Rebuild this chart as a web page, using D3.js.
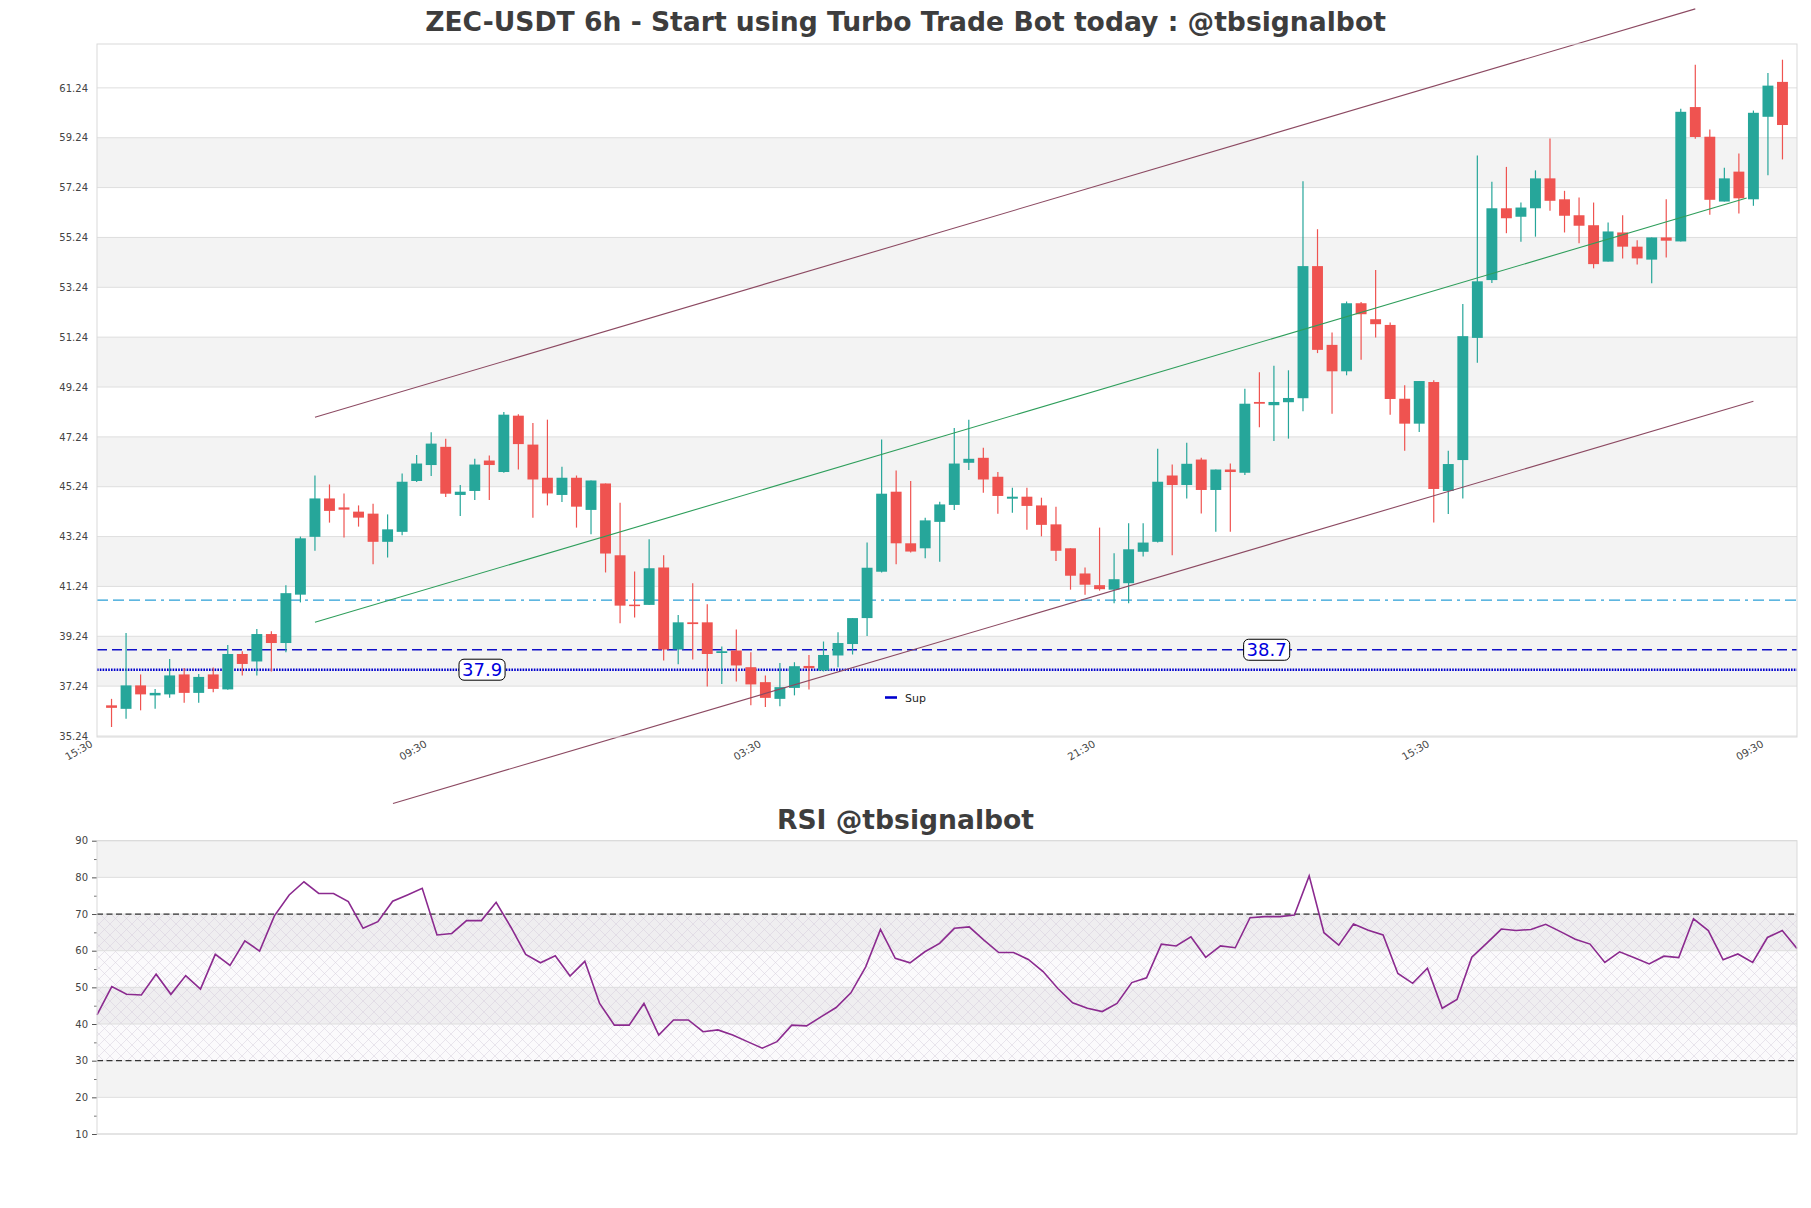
<!DOCTYPE html>
<html><head><meta charset="utf-8">
<script src="https://cdn.jsdelivr.net/npm/d3@7"></script>
<style>
body{margin:0;background:#fff;}
svg{display:block;}
text{font-family:"DejaVu Sans",sans-serif;}
</style>
</head><body>
<svg id="chart" width="1811" height="1208"></svg>
<script>
// ---------------- DATA ----------------
const opens  = [36.47,36.33,37.27,36.87,36.91,37.71,36.97,37.71,37.11,38.53,38.23,39.33,38.97,40.91,43.23,44.77,44.41,44.24,44.16,43.03,43.43,45.47,46.11,46.84,44.91,45.07,46.29,45.83,48.09,46.93,45.60,44.91,45.60,44.31,45.37,42.49,40.51,40.50,42.00,38.71,39.80,39.80,38.57,38.67,38.00,37.40,36.73,37.17,38.05,37.87,38.47,38.93,39.97,41.83,45.04,42.97,42.77,43.83,44.51,46.20,46.40,45.64,44.76,44.84,44.49,43.73,42.77,41.76,41.29,41.11,41.37,42.63,43.03,45.69,45.31,46.33,45.11,45.93,45.80,48.64,48.51,48.63,48.79,54.09,50.93,49.87,52.60,51.96,51.73,48.77,47.77,49.44,45.07,46.31,51.21,53.53,56.41,56.07,56.41,57.61,56.77,56.13,55.73,54.27,55.44,54.87,54.35,55.24,55.08,60.47,59.28,56.68,57.88,56.77,60.08,61.48];
const highs  = [36.73,39.37,37.71,37.13,38.33,37.97,37.73,37.99,38.89,38.64,39.53,39.44,41.29,43.24,45.69,45.33,44.97,44.49,44.56,44.13,45.77,46.51,47.43,47.16,45.31,46.36,46.49,48.24,48.15,47.80,47.93,46.04,45.69,45.49,45.37,44.60,41.84,43.13,42.49,40.09,41.37,40.53,38.83,39.51,38.60,37.67,38.17,38.20,38.49,39.03,39.40,39.97,43.00,47.13,45.89,45.47,44.00,44.64,47.60,47.93,46.80,45.83,45.20,45.20,44.80,44.44,42.77,42.00,43.60,42.57,43.77,43.77,46.76,46.13,47.00,46.40,45.93,46.17,49.17,49.83,50.09,49.91,57.49,55.57,51.43,52.67,52.65,53.93,51.83,49.31,49.48,49.51,46.68,52.57,58.53,57.47,58.07,56.64,57.93,59.21,57.11,56.84,56.64,55.84,56.13,55.13,55.24,56.77,60.40,62.17,59.57,58.04,58.61,60.33,61.84,62.37];
const lows   = [35.60,35.93,36.27,36.33,36.77,36.57,36.57,37.00,37.10,37.67,37.67,37.83,38.60,40.60,42.67,43.80,43.20,43.64,42.13,42.40,43.29,45.43,45.67,44.83,44.07,44.71,44.71,45.80,45.93,44.00,44.49,44.63,43.60,43.33,41.80,39.76,39.99,40.50,38.27,38.12,38.31,37.23,37.33,37.43,36.47,36.40,36.43,36.87,37.11,37.83,38.00,38.51,39.25,41.80,42.13,42.60,42.37,42.23,44.31,45.91,45.00,44.16,44.20,43.51,43.25,42.26,41.11,40.91,41.07,40.57,40.57,42.44,43.00,42.49,44.77,44.17,43.43,43.43,45.71,47.63,47.07,47.17,48.27,50.60,48.17,49.71,50.33,51.23,48.13,46.68,47.44,43.80,44.15,44.77,50.21,53.41,55.41,55.07,55.27,56.31,55.44,55.01,54.00,54.27,54.40,54.15,53.40,54.44,55.08,59.20,56.15,56.68,56.20,56.51,57.73,58.37];
const closes = [36.37,37.27,36.91,36.97,37.67,36.97,37.61,37.13,38.53,38.13,39.33,38.97,40.97,43.17,44.77,44.27,44.32,44.00,43.03,43.53,45.44,46.17,46.97,44.96,45.04,46.13,46.11,48.13,46.95,45.53,44.97,45.60,44.44,45.49,42.56,40.47,40.49,41.97,38.71,39.80,39.73,38.53,38.64,38.07,37.31,36.77,37.20,38.04,37.96,38.49,38.97,39.97,41.99,44.96,42.97,42.64,43.89,44.53,46.17,46.36,45.53,44.87,44.84,44.47,43.71,42.67,41.67,41.31,41.13,41.53,42.73,43.00,45.44,45.31,46.16,45.11,45.93,45.83,48.57,48.57,48.64,48.80,54.09,50.73,49.87,52.60,52.16,51.76,48.76,47.77,49.48,45.15,46.15,51.28,53.48,56.41,56.01,56.44,57.61,56.71,56.11,55.71,54.17,55.48,54.87,54.40,55.24,55.11,60.28,59.27,56.75,57.61,56.81,60.24,61.33,59.75];

const rsiValues = [42.5,50.2,48.1,47.9,53.6,48.1,53.2,49.5,59.0,56.0,62.7,59.9,69.5,75.2,78.8,75.6,75.6,73.4,66.1,67.9,73.5,75.2,77.0,64.3,64.7,68.2,68.2,73.2,66.4,59.0,56.7,58.6,53.1,57.1,45.6,39.7,39.7,45.6,37.0,41.1,41.1,37.9,38.4,37.0,35.2,33.4,35.2,39.7,39.5,42.0,44.5,48.5,55.6,65.8,57.9,56.7,59.7,62.0,66.1,66.5,62.9,59.5,59.5,57.6,54.3,49.7,45.8,44.3,43.4,45.6,51.3,52.6,61.8,61.3,63.8,58.2,61.3,60.8,69.0,69.3,69.3,69.7,80.4,64.9,61.5,67.3,65.6,64.3,53.8,51.1,55.2,44.3,46.7,58.2,62.0,65.9,65.5,65.8,67.2,65.2,63.1,61.8,56.8,59.7,58.1,56.4,58.5,58.1,68.7,65.5,57.5,59.1,56.8,63.6,65.5,60.6];

const timeTickIndex  = [-1, 22, 45, 68, 91, 114];
const timeTickLabels = ["15:30","09:30","03:30","21:30","15:30","09:30"];
const priceTicks = [35.24,37.24,39.24,41.24,43.24,45.24,47.24,49.24,51.24,53.24,55.24,57.24,59.24,61.24];
const rsiTicks = [10,20,30,40,50,60,70,80,90];
const rsiMinorTicks = [15,25,35,45,55,65,75,85];
const rsiLevels = [70, 30];

const supportLevel = 37.9;      // dotted, legend "Sup"
const resistLevel  = 38.7;      // dashed
const cyanLevel    = 40.69;     // dash-dot
const levelLabels = ["37.9","38.7"];
const legendLabels = ["Sup"];

// channel lines: [index, price]
const channelUpper  = [[14, 48.03],[109, 64.41]];
const channelMiddle = [[14, 39.80],[112.54, 56.82]];
const channelLower  = [[19.37, 32.53],[113.0, 48.67]];

const titleMain = "ZEC-USDT 6h - Start using Turbo Trade Bot today : @tbsignalbot";
const titleRsi = "RSI @tbsignalbot";

// ---------------- DRAW ----------------
const svg = d3.select("#chart");
const L = 97, R = 1797, T = 44, B = 737;
const rT = 840.7, rB = 1134;
const N = closes.length;

const x = d3.scaleLinear().domain([-1, N]).range([L, R]);
const y = d3.scaleLinear().domain([35.2, 63.0]).range([B, T]);
const xr = d3.scaleLinear().domain([0, N-1]).range([L, R]);
const yr = d3.scaleLinear().domain([10, 90]).range([rB, rT]);

const defs = svg.append("defs");
defs.append("clipPath").attr("id","clipMain").append("rect")
  .attr("x",L).attr("y",T).attr("width",R-L).attr("height",B-T);
const pat = defs.append("pattern").attr("id","hatch").attr("patternUnits","userSpaceOnUse")
  .attr("width",11).attr("height",11);
pat.append("path").attr("d","M0,0L11,11M11,0L0,11M-1,10L1,12M10,-1L12,1M-1,1L1,-1M10,12L12,10")
  .attr("stroke","#d3cada").attr("stroke-width",0.55).attr("fill","none");

// titles
svg.append("text").attr("x",905.5).attr("y",31).attr("text-anchor","middle")
  .attr("font-size",26.6).attr("font-weight","bold").attr("fill","#3d3d3d").text(titleMain);
svg.append("text").attr("x",905.5).attr("y",829).attr("text-anchor","middle")
  .attr("font-size",26.6).attr("font-weight","bold").attr("fill","#3d3d3d").text(titleRsi);

// ---- main panel ----
const main = svg.append("g");
for (let j = 0; j < priceTicks.length-1; j++) {
  if (j % 2 === 1) {
    main.append("rect").attr("x",L).attr("width",R-L)
      .attr("y",y(priceTicks[j+1])).attr("height",y(priceTicks[j])-y(priceTicks[j+1]))
      .attr("fill","#f3f3f3");
  }
}
main.selectAll(".pg").data(priceTicks).enter().append("line")
  .attr("x1",L).attr("x2",R).attr("y1",d=>y(d)).attr("y2",d=>y(d))
  .attr("stroke","#dedede").attr("stroke-width",1);

const yAxis = d3.axisLeft(y).tickValues(priceTicks).tickFormat(d3.format(".2f")).tickSize(0).tickPadding(9);
const ya = main.append("g").attr("transform",`translate(${L},0)`).call(yAxis);
ya.select(".domain").remove();
ya.selectAll("text").attr("font-size",10).attr("fill","#444").attr("font-family","DejaVu Sans");

// x tick labels
const xAxis = d3.axisBottom(x).tickValues(timeTickIndex).tickFormat((d,i)=>timeTickLabels[i]).tickSize(0);
const xa = main.append("g").attr("transform",`translate(0,${B})`).call(xAxis);
xa.select(".domain").remove();
xa.selectAll("text").attr("font-size",10.3).attr("fill","#444").attr("font-family","DejaVu Sans")
  .attr("text-anchor","end").attr("y",0).attr("dy","0")
  .attr("transform","translate(-4,9) rotate(-30)");

// levels
const lv = main.append("g").attr("clip-path","url(#clipMain)");
lv.append("line").attr("x1",L).attr("x2",R).attr("y1",y(cyanLevel)).attr("y2",y(cyanLevel))
  .attr("stroke","#2a9fd6").attr("stroke-width",1.3).attr("stroke-dasharray","11,5,11,5,11,5,11,5,3,5");
lv.append("line").attr("x1",L).attr("x2",R).attr("y1",y(resistLevel)).attr("y2",y(resistLevel))
  .attr("stroke","#1010c8").attr("stroke-width",1.3).attr("stroke-dasharray","10,5");
lv.append("line").attr("x1",L).attr("x2",R).attr("y1",y(supportLevel)).attr("y2",y(supportLevel))
  .attr("stroke","#0000cd").attr("stroke-width",2.6).attr("stroke-dasharray","1.6,1.2");

// candles
const bw = (x(1)-x(0))*0.75;
const cg = main.append("g").attr("clip-path","url(#clipMain)");
const idx = d3.range(N);
const col = i => closes[i] >= opens[i] ? "#26a69a" : "#ef5350";
cg.selectAll(".wick").data(idx).enter().append("line")
  .attr("x1",i=>x(i)).attr("x2",i=>x(i)).attr("y1",i=>y(highs[i])).attr("y2",i=>y(lows[i]))
  .attr("stroke",col).attr("stroke-width",1.2);
cg.selectAll(".body").data(idx).enter().append("rect")
  .attr("x",i=>x(i)-bw/2).attr("width",bw)
  .attr("y",i=>y(Math.max(opens[i],closes[i])))
  .attr("height",i=>Math.max(1.5, Math.abs(y(opens[i])-y(closes[i]))))
  .attr("fill",col);

// channel lines (not clipped)
const ln = d3.line().x(d=>x(d[0])).y(d=>y(d[1]));
main.append("path").attr("d",ln(channelUpper)).attr("stroke","#8c4a62").attr("stroke-width",1.1).attr("fill","none");
main.append("path").attr("d",ln(channelLower)).attr("stroke","#8c4a62").attr("stroke-width",1.1).attr("fill","none");
main.append("path").attr("d",ln(channelMiddle)).attr("stroke","#2e9e5b").attr("stroke-width",1.1).attr("fill","none");

// level labels
function boxLabel(xc, yc, txt){
  const g = main.append("g");
  const t = g.append("text").attr("x",xc).attr("y",yc).attr("text-anchor","middle")
    .attr("dominant-baseline","central").attr("font-size",18).attr("fill","#0000dd").text(txt);
  const bb = t.node().getBBox();
  g.insert("rect","text").attr("x",bb.x-3).attr("y",yc-10.5).attr("width",bb.width+6).attr("height",21)
    .attr("rx",5).attr("fill","#fff").attr("stroke","#000").attr("stroke-width",1);
}
boxLabel(x(25.5), y(supportLevel), levelLabels[0]);
boxLabel(x(79.5), y(resistLevel), levelLabels[1]);

// legend
const lg = main.append("g");
lg.append("rect").attr("x",880).attr("y",687).attr("width",57).attr("height",21).attr("fill","#fff").attr("opacity",0.85);
lg.append("line").attr("x1",885).attr("x2",897).attr("y1",697.5).attr("y2",697.5).attr("stroke","#0000cd").attr("stroke-width",2.6);
lg.append("text").attr("x",905).attr("y",701.5).attr("font-size",11).attr("fill","#222").text(legendLabels[0]);

// frame
main.append("rect").attr("x",L).attr("y",T).attr("width",R-L).attr("height",B-T)
  .attr("fill","none").attr("stroke","#d9d9d9").attr("stroke-width",1);

// ---- RSI panel ----
const rp = svg.append("g");
for (let j = 0; j < rsiTicks.length-1; j++) {
  if (j % 2 === 1) {
    rp.append("rect").attr("x",L).attr("width",R-L)
      .attr("y",yr(rsiTicks[j+1])).attr("height",yr(rsiTicks[j])-yr(rsiTicks[j+1]))
      .attr("fill","#f3f3f3");
  }
}
rp.append("rect").attr("x",L).attr("width",R-L).attr("y",yr(70)).attr("height",yr(30)-yr(70))
  .attr("fill","#b7a4c8").attr("opacity",0.05);
rp.append("rect").attr("x",L).attr("width",R-L).attr("y",yr(70)).attr("height",yr(30)-yr(70))
  .attr("fill","url(#hatch)").attr("opacity",0.85);
rp.selectAll(".rg").data(rsiTicks).enter().append("line")
  .attr("x1",L).attr("x2",R).attr("y1",d=>yr(d)).attr("y2",d=>yr(d))
  .attr("stroke","#dedede").attr("stroke-width",1);
rp.selectAll(".rl").data(rsiLevels).enter().append("line")
  .attr("x1",L).attr("x2",R).attr("y1",d=>yr(d)).attr("y2",d=>yr(d))
  .attr("stroke","#333").attr("stroke-width",1.2).attr("stroke-dasharray","6,3.5");

const rAxis = d3.axisLeft(yr).tickValues(rsiTicks).tickSize(5).tickPadding(4);
const ra = rp.append("g").attr("transform",`translate(${L},0)`).call(rAxis);
ra.select(".domain").remove();
ra.selectAll("line").attr("stroke","#555");
ra.selectAll("text").attr("font-size",10).attr("fill","#444").attr("font-family","DejaVu Sans");
const rAxisMinor = d3.axisLeft(yr).tickValues(rsiMinorTicks).tickSize(3).tickFormat("");
const ram = rp.append("g").attr("transform",`translate(${L},0)`).call(rAxisMinor);
ram.select(".domain").remove();
ram.selectAll("line").attr("stroke","#777");

rp.append("path").datum(rsiValues)
  .attr("d", d3.line().x((d,i)=>xr(i)).y(d=>yr(d)))
  .attr("fill","none").attr("stroke","#8b2a8f").attr("stroke-width",1.6);

rp.append("rect").attr("x",L).attr("y",rT).attr("width",R-L).attr("height",rB-rT)
  .attr("fill","none").attr("stroke","#d9d9d9").attr("stroke-width",1);
</script>
</body></html>
